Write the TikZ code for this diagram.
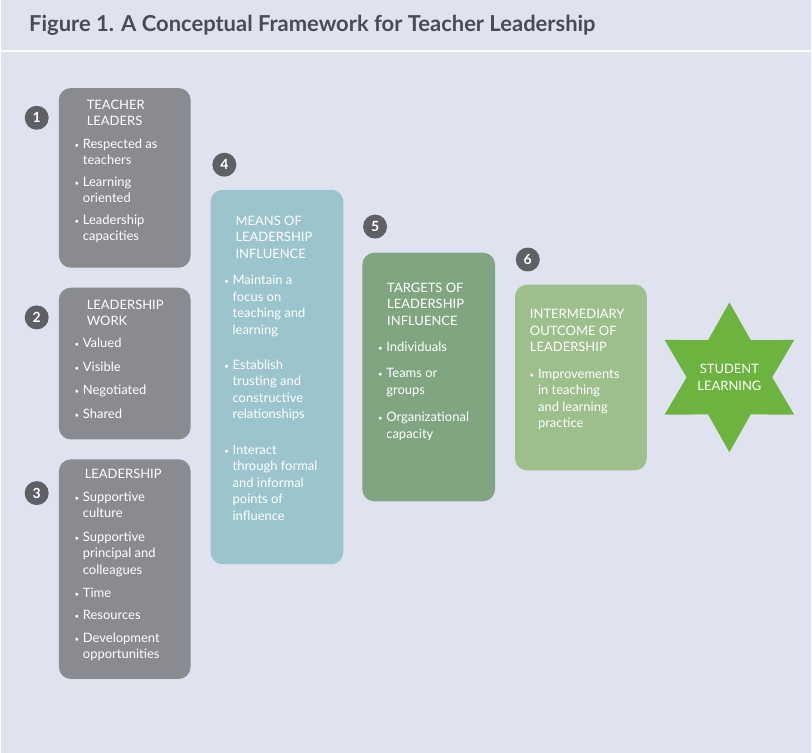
\documentclass[tikz,border=0pt]{standalone}
\usepackage{fontspec}
\setmainfont{Lato}
\usetikzlibrary{positioning, shapes.geometric}
\definecolor{bgpage}{HTML}{DFE2EF}
\definecolor{xgray}{HTML}{8A8B90}
\definecolor{xnum}{HTML}{5F6066}
\definecolor{xblue}{HTML}{9BC4CC}
\definecolor{xgreen}{HTML}{80A580}
\definecolor{xlgreen}{HTML}{9DBF8C}
\definecolor{xstar}{HTML}{6DB33F}
\definecolor{xtitle}{HTML}{4A4B55}
\tikzset{
	box/.style={rounded corners=12pt, anchor=north west, inner sep=0pt},
	txt/.style={anchor=north west, inner sep=0pt, align=left, text=white, font=\fontsize{13}{16.5}\selectfont},
	num/.style={circle, fill=xnum, text=white, minimum size=24pt, inner sep=0pt, font=\bfseries\fontsize{14}{14}\selectfont},
}
\newcommand{\bul}[1]{\begin{tabular}[t]{@{}l@{\hspace{4pt}}l@{}}{\scriptsize\raisebox{1pt}{$\bullet$}}&\begin{tabular}[t]{@{}l@{}}#1\end{tabular}\end{tabular}}
\begin{document}
\begin{tikzpicture}[x=1pt, y=-1pt]
			\fill[bgpage] (0,0) rectangle (812,754);
			\draw[white, line width=1.5pt] (0,51) -- (812,51);
			\node[anchor=west, text=xtitle, font=\bfseries\fontsize{22}{22}\selectfont] (title) at (25,25) {Figure 1. A Conceptual Framework for Teacher Leadership};

			% left column
			\node[box, fill=xgray, minimum width=132pt, minimum height=180pt] (B1) at (58,88) {};
			\node[box, fill=xgray, minimum width=132pt, minimum height=152pt] (B2) at (58,288) {};
			\node[box, fill=xgray, minimum width=132pt, minimum height=220pt] (B3) at (58,460) {};
			\node[txt] (T1) at (74,100) {\hspace*{12pt}TEACHER\\\hspace*{12pt}LEADERS\\[6pt]
				\bul{Respected as\\teachers}\\[4pt]\bul{Learning\\oriented}\\[4pt]\bul{Leadership\\capacities}};
			\node[txt] (T2) at (74,300) {\hspace*{12pt}LEADERSHIP\\\hspace*{12pt}WORK\\[6pt]
				\bul{Valued}\\[7pt]\bul{Visible}\\[7pt]\bul{Negotiated}\\[7pt]\bul{Shared}};
			\node[txt] (T3) at (74,470) {\hspace*{10pt}LEADERSHIP\\[6pt]
				\bul{Supportive\\culture}\\[6pt]\bul{Supportive\\principal and\\colleagues}\\[6pt]\bul{Time}\\[6pt]\bul{Resources}\\[6pt]\bul{Development\\opportunities}};

			% middle columns
			\node[box, fill=xblue, minimum width=133pt, minimum height=375pt] (B4) at (210,190) {};
			\node[txt] (T4) at (224,216) {\hspace*{11pt}MEANS OF\\\hspace*{11pt}LEADERSHIP\\\hspace*{11pt}INFLUENCE\\[10pt]
				\bul{Maintain a\\focus on\\teaching and\\learning}\\[18pt]\bul{Establish\\trusting and\\constructive\\relationships}\\[18pt]\bul{Interact\\through formal\\and informal\\points of\\influence}};
			\node[box, fill=xgreen, minimum width=133pt, minimum height=249pt] (B5) at (362,253) {};
			\node[txt] (T5) at (378,283) {\hspace*{9pt}TARGETS OF\\\hspace*{9pt}LEADERSHIP\\\hspace*{9pt}INFLUENCE\\[10pt]
				\bul{Individuals}\\[10pt]\bul{Teams or\\groups}\\[10pt]\bul{Organizational\\capacity}};
			\node[box, fill=xlgreen, minimum width=132pt, minimum height=186pt] (B6) at (515,285) {};
			\node[txt] (T6) at (530,310) {INTERMEDIARY\\OUTCOME OF\\LEADERSHIP\\[10pt]
				\bul{Improvements\\in teaching\\and learning\\practice}};

			% star
			\node[star, star points=6, star point ratio=1.75, fill=xstar, minimum size=150pt, inner sep=0pt] (S) at (730,378) {};
			\node[txt, anchor=center, align=center] (ST) at (S.center) {STUDENT\\LEARNING};

			% numbers
			\node[num] (N1) at (36,118) {1};
			\node[num] (N2) at (36,318) {2};
			\node[num] (N3) at (36,494) {3};
			\node[num] (N4) at (224,165) {4};
			\node[num] (N5) at (375,227) {5};
			\node[num] (N6) at (528,260) {6};
		\end{tikzpicture}
\end{document}
